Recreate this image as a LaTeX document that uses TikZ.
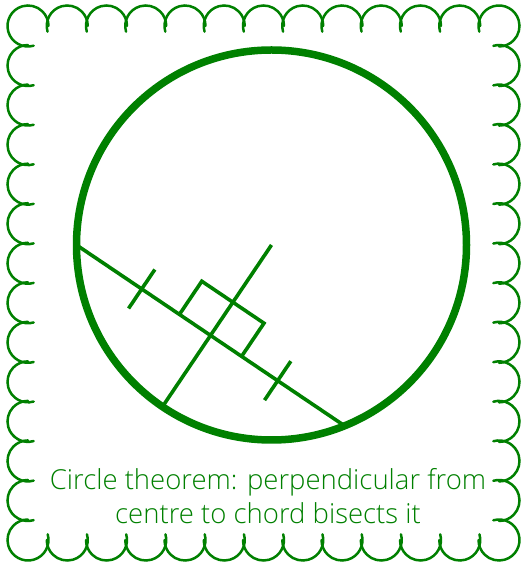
\documentclass[tikz,border=0pt]{standalone}
\usepackage{fontspec}
\setmainfont{Open Sans}[UprightFont=* Light]
\usetikzlibrary{calc}
\definecolor{stampgreen}{RGB}{0,128,0}

\tikzset{
  stampline/.style={draw=stampgreen, line width=2.5pt, line cap=round},
  ringline/.style={draw=stampgreen, line width=7.5pt},
  geomline/.style={draw=stampgreen, line width=3.6pt},
  caption/.style={text=stampgreen, font=\fontsize{27.5}{34}\selectfont, align=center}
}
% one scallop of the stamp edge: centre x, centre y, start angle, end angle
\newcommand{\scallop}[4]{\draw[stampline] ($(#1,#2)+(#3:20.5)$) arc[start angle=#3, end angle=#4, radius=20.5];}

\begin{document}
\begin{tikzpicture}[x=1pt, y=1pt]
  \useasboundingbox (0,0) rectangle (524,562);

  % stamp border
  \scallop{28}{536}{286}{0}
  \scallop{499}{536}{196}{-90}
  \scallop{499}{22}{106}{-180}
  \scallop{28}{22}{16}{-270}
  \foreach \k in {1,...,11} {
    \pgfmathsetmacro\cx{28+\k*39.25}
    \scallop{\cx}{536}{196}{0}
    \pgfmathsetmacro\cx{499-\k*39.25}
    \scallop{\cx}{22}{16}{-180}
  }
  \foreach \k in {1,...,12} {
    \pgfmathsetmacro\cy{536-\k*39.54}
    \scallop{499}{\cy}{106}{-90}
    \pgfmathsetmacro\cy{22+\k*39.54}
    \scallop{28}{\cy}{-74}{-270}
  }

  % circle, chord and perpendicular
  \coordinate (centre) at (271.5,317);
  \coordinate (chordA) at ($(centre)+(180:195)$);
  \coordinate (chordB) at ($(centre)+(292:195)$);
  \coordinate (foot) at ($(chordA)!0.5!(chordB)$);
  \coordinate (rim) at ($(centre)+(236:195)$);

  \draw[ringline] (centre) circle[radius=195];
  \draw[geomline] (chordA) -- (chordB);
  \draw[geomline] (centre) -- (rim);

  \begin{scope}[shift={(foot)}, rotate=-34]
    \draw[geomline] (-37.5,0) -- (-37.5,40) -- (37.5,40) -- (37.5,0);
    \draw[geomline] (-83,-23.5) -- (-83,23.5);
    \draw[geomline] (81,-23.5) -- (81,23.5);
  \end{scope}

  \node[caption] (title) at (268,66) {Circle theorem: perpendicular from\\centre to chord bisects it};
\end{tikzpicture}
\end{document}
